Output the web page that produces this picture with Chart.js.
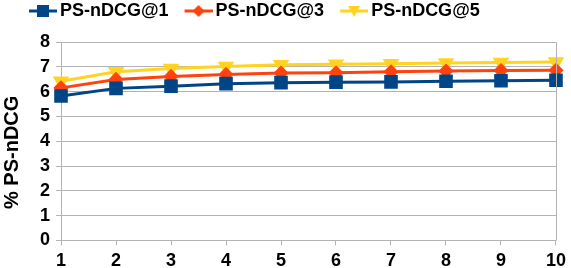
<!DOCTYPE html>
<html>
<head>
<meta charset="utf-8">
<script src="https://cdn.jsdelivr.net/npm/chart.js@4"></script>
<style>
  html, body { margin: 0; padding: 0; background: #fff; }
  #wrap { width: 571px; height: 268px; }
</style>
</head>
<body>
<div id="wrap"><canvas id="chart"></canvas></div>
<script>
// values
const categories = ['1', '2', '3', '4', '5', '6', '7', '8', '9', '10'];
const ndcg1 = [5.82, 6.13, 6.22, 6.32, 6.36, 6.38, 6.39, 6.42, 6.44, 6.46];
const ndcg3 = [6.15, 6.49, 6.61, 6.69, 6.75, 6.76, 6.80, 6.83, 6.85, 6.86];
const ndcg5 = [6.42, 6.80, 6.93, 7.01, 7.08, 7.10, 7.12, 7.15, 7.17, 7.19];
const yTicks = [0, 1, 2, 3, 4, 5, 6, 7, 8];

const BLUE = '#004586';
const ORANGE = '#ff420e';
const YELLOW = '#ffd320';
const GRID = '#b3b3b3';
const FONT = "'Liberation Sans', Arial, sans-serif";

// legend icon: a short line with the marker on top.
// the legend box is 36px wide, the icon sits 14px into it
function legendIcon(color, shape) {
    const c = document.createElement('canvas');
    c.width = 48; c.height = 14;
    const g = c.getContext('2d');
    const x0 = 20; // left end of the visible icon inside the canvas
    g.strokeStyle = color;
    g.fillStyle = color;
    g.lineWidth = 3;
    g.beginPath(); g.moveTo(x0, 7); g.lineTo(x0 + 28, 7); g.stroke();
    g.beginPath();
    if (shape === 'square') {
        g.rect(x0 + 8, 1, 12, 12);
    } else if (shape === 'diamond') {
        g.moveTo(x0 + 14, 1); g.lineTo(x0 + 20, 7); g.lineTo(x0 + 14, 13); g.lineTo(x0 + 8, 7);
    } else {
        g.moveTo(x0 + 8, 2); g.lineTo(x0 + 20, 2); g.lineTo(x0 + 14, 13);
    }
    g.closePath(); g.fill();
    return c;
}

const icons = [
    legendIcon(BLUE, 'square'),
    legendIcon(ORANGE, 'diamond'),
    legendIcon(YELLOW, 'triangle')
];

// move the legend to where the reference has it
const legendShift = {
    id: 'legendShift',
    afterLayout(chart) {
        const lg = chart.legend;
        const dx = 13 - lg.left;
        const dy = 0 - lg.top;
        lg.left += dx; lg.right += dx;
        lg.top += dy; lg.bottom += dy;
    }
};

const plotBorder = {
    id: 'plotBorder',
    afterDraw(chart) {
        const a = chart.chartArea;
        const g = chart.ctx;
        const l = Math.round(a.left) + 0.5, t = Math.round(a.top) + 0.5;
        const r = Math.round(a.right) + 0.5, b = Math.round(a.bottom) + 0.5;
        g.save();
        g.strokeStyle = GRID;
        g.lineWidth = 1;
        g.beginPath();
        g.moveTo(l, t); g.lineTo(r, t); g.lineTo(r, b);
        g.stroke();
        g.restore();
    }
};

new Chart(document.getElementById('chart'), {
    type: 'line',
    data: {
        labels: categories,
        datasets: [
            {
                label: 'PS-nDCG@1', data: ndcg1,
                borderColor: BLUE, backgroundColor: BLUE,
                borderWidth: 3, pointStyle: 'rect', pointRadius: 7.5, pointHoverRadius: 7.5
            },
            {
                label: 'PS-nDCG@3', data: ndcg3,
                borderColor: ORANGE, backgroundColor: ORANGE,
                borderWidth: 3, pointStyle: 'rectRot', pointRadius: 5.5, pointHoverRadius: 5.5
            },
            {
                label: 'PS-nDCG@5', data: ndcg5,
                borderColor: YELLOW, backgroundColor: YELLOW,
                borderWidth: 3, pointStyle: 'triangle', pointRotation: 180, pointRadius: 6.5, pointHoverRadius: 6.5
            }
        ]
    },
    options: {
        responsive: true,
        maintainAspectRatio: false,
        animation: false,
        layout: { padding: { left: 0, right: 10, top: 12, bottom: -9 } },
        scales: {
            x: {
                offset: false,
                grid: { display: true, drawOnChartArea: false, tickLength: 5, color: GRID },
                border: { color: GRID },
                ticks: { color: '#000', font: { family: FONT, size: 18, weight: 'bold' }, padding: 5, maxRotation: 0 }
            },
            y: {
                min: 0, max: 8,
                afterBuildTicks(scale) { scale.ticks = yTicks.map(v => ({ value: v })); },
                grid: { color: GRID, tickLength: 5 },
                border: { color: GRID },
                ticks: { color: '#000', font: { family: FONT, size: 18, weight: 'bold' }, padding: 6 },
                title: {
                    display: true, text: '% PS-nDCG    ', color: '#000',
                    font: { family: FONT, size: 20, weight: 'bold' }, padding: { top: 0, bottom: 10 }
                }
            }
        },
        plugins: {
            legend: {
                position: 'top',
                align: 'start',
                labels: {
                    color: '#000',
                    font: { family: FONT, size: 18, weight: 'bold' },
                    usePointStyle: true,
                    pointStyleWidth: 36,
                    boxHeight: 14,
                    padding: 2,
                    generateLabels(chart) {
                        return chart.data.datasets.map((ds, i) => ({
                            text: ds.label,
                            pointStyle: icons[i],
                            fillStyle: ds.backgroundColor,
                            strokeStyle: ds.borderColor,
                            lineWidth: 0,
                            fontColor: '#000',
                            datasetIndex: i,
                            hidden: false
                        }));
                    }
                }
            },
            tooltip: { enabled: false }
        }
    },
    plugins: [legendShift, plotBorder]
});
</script>
</body>
</html>
